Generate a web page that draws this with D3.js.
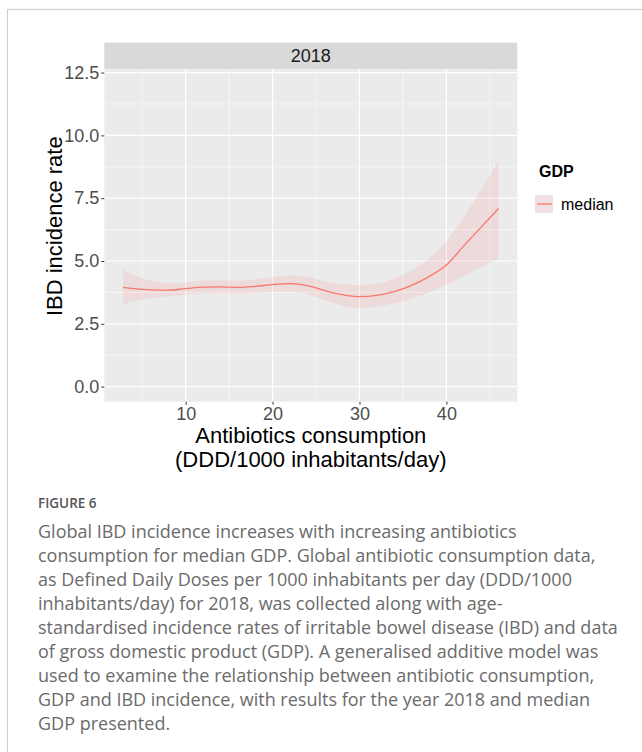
<!DOCTYPE html>
<html>
<head>
<meta charset="utf-8">
<script src="https://cdn.jsdelivr.net/npm/d3@7"></script>
<style>
  body { margin: 0; background: #fff; }
  svg { display: block; }
</style>
</head>
<body>
<div class="canvas"></div>
<script>
// GAM fit, median GDP, 2018
const consumption = [2.8, 4, 6, 8, 10, 12, 14, 16, 18, 20, 22, 24, 26, 28, 30, 32, 34, 36, 38, 40, 42, 44, 46]
const fitted = [3.95, 3.90, 3.85, 3.84, 3.90, 3.96, 3.97, 3.95, 3.99, 4.06, 4.10, 4.02, 3.82, 3.66, 3.58, 3.63, 3.78, 4.03, 4.38, 4.84, 5.60, 6.35, 7.09]
const lower = [3.29, 3.40, 3.52, 3.58, 3.66, 3.70, 3.72, 3.70, 3.73, 3.77, 3.78, 3.67, 3.45, 3.22, 3.12, 3.18, 3.32, 3.50, 3.74, 4.04, 4.40, 4.75, 5.10]
const upper = [4.64, 4.45, 4.22, 4.12, 4.15, 4.22, 4.23, 4.21, 4.27, 4.36, 4.43, 4.37, 4.19, 4.08, 4.04, 4.10, 4.30, 4.62, 5.10, 5.80, 6.75, 7.85, 9.00]

const xTicks = [10, 20, 30, 40]
const xMinor = [5, 15, 25, 35, 45]
const yTicks = [0, 2.5, 5, 7.5, 10, 12.5]
const yMinor = [1.25, 3.75, 6.25, 8.75, 11.25]

const facet = '2018'
const legendTitle = 'GDP'
const legendLabels = ['median']

const captionHead = 'FIGURE 6'
const captionLines = [
  'Global IBD incidence increases with increasing antibiotics',
  'consumption for median GDP. Global antibiotic consumption data,',
  'as Defined Daily Doses per 1000 inhabitants per day (DDD/1000',
  'inhabitants/day) for 2018, was collected along with age-',
  'standardised incidence rates of irritable bowel disease (IBD) and data',
  'of gross domestic product (GDP). A generalised additive model was',
  'used to examine the relationship between antibiotic consumption,',
  'GDP and IBD incidence, with results for the year 2018 and median',
  'GDP presented.'
]

const dims = { width: 642, height: 752 }
const panel = { left: 104.3, right: 517.3, top: 69.3, bottom: 401.7, stripTop: 42.7 }
const red = '#F8766D'
const font = '"Liberation Sans", Arial, Helvetica, sans-serif'

const data = consumption.map((c, i) => ({ x: c, y: fitted[i], lo: lower[i], hi: upper[i] }))

const svg = d3.select('.canvas').append('svg')
  .attr('width', dims.width)
  .attr('height', dims.height)

// page frame
svg.append('rect')
  .attr('x', 7.5).attr('y', 9.5)
  .attr('width', 700).attr('height', 800)
  .attr('fill', '#fff')
  .attr('stroke', '#cfcfcf')
  .attr('stroke-width', 1.2)

// ggplot-style 5% expansion of the data range
const [x0, x1] = d3.extent(consumption)
const pad = (x1 - x0) * 0.05
const x = d3.scaleLinear()
  .domain([x0 - pad, x1 + pad])
  .range([panel.left, panel.right])

const y = d3.scaleLinear()
  .domain([-0.6, 12.63])
  .range([panel.bottom, panel.top])

// strip
svg.append('rect')
  .attr('x', panel.left).attr('y', panel.stripTop)
  .attr('width', panel.right - panel.left)
  .attr('height', panel.top - panel.stripTop)
  .attr('fill', '#D9D9D9')

svg.append('text')
  .attr('x', (panel.left + panel.right) / 2)
  .attr('y', (panel.stripTop + panel.top) / 2)
  .attr('dy', '0.36em')
  .attr('text-anchor', 'middle')
  .attr('font-family', font)
  .attr('font-size', 18)
  .attr('fill', '#1A1A1A')
  .text(facet)

// panel background
svg.append('rect')
  .attr('x', panel.left).attr('y', panel.top)
  .attr('width', panel.right - panel.left)
  .attr('height', panel.bottom - panel.top)
  .attr('fill', '#EBEBEB')

const grid = svg.append('g')

grid.selectAll('.vminor').data(xMinor.filter(d => x(d) < panel.right))
  .enter().append('line')
  .attr('x1', d => x(d)).attr('x2', d => x(d))
  .attr('y1', panel.top).attr('y2', panel.bottom)
  .attr('stroke', '#fff').attr('stroke-width', 0.6)

grid.selectAll('.hminor').data(yMinor)
  .enter().append('line')
  .attr('y1', d => y(d)).attr('y2', d => y(d))
  .attr('x1', panel.left).attr('x2', panel.right)
  .attr('stroke', '#fff').attr('stroke-width', 0.6)

grid.selectAll('.vmajor').data(xTicks)
  .enter().append('line')
  .attr('x1', d => x(d)).attr('x2', d => x(d))
  .attr('y1', panel.top).attr('y2', panel.bottom)
  .attr('stroke', '#fff').attr('stroke-width', 1.2)

grid.selectAll('.hmajor').data(yTicks)
  .enter().append('line')
  .attr('y1', d => y(d)).attr('y2', d => y(d))
  .attr('x1', panel.left).attr('x2', panel.right)
  .attr('stroke', '#fff').attr('stroke-width', 1.2)

// confidence ribbon + fitted line
const ribbon = d3.area()
  .x(d => x(d.x))
  .y0(d => y(d.lo))
  .y1(d => y(d.hi))
  .curve(d3.curveMonotoneX)

const fitLine = d3.line()
  .x(d => x(d.x))
  .y(d => y(d.y))
  .curve(d3.curveMonotoneX)

svg.append('path')
  .datum(data)
  .attr('d', ribbon)
  .attr('fill', red)
  .attr('fill-opacity', 0.13)

svg.append('path')
  .datum(data)
  .attr('d', fitLine)
  .attr('fill', 'none')
  .attr('stroke', red)
  .attr('stroke-width', 1.3)

// axes
const xAxis = d3.axisBottom(x).tickValues(xTicks).tickSize(3).tickPadding(3)
const yAxis = d3.axisLeft(y).tickValues(yTicks).tickSize(3).tickPadding(2)
  .tickFormat(d3.format('.1f'))

const xg = svg.append('g')
  .attr('transform', `translate(0, ${panel.bottom})`)
  .call(xAxis)
const yg = svg.append('g')
  .attr('transform', `translate(${panel.left}, 0)`)
  .call(yAxis)

;[xg, yg].forEach(g => {
  g.select('.domain').remove()
  g.selectAll('line').attr('stroke', '#333')
  g.selectAll('text')
    .attr('font-family', font)
    .attr('font-size', 18)
    .attr('fill', '#4D4D4D')
})

// axis titles
svg.append('text')
  .attr('transform', `translate(62, ${(panel.stripTop + panel.bottom) / 2 + 4}) rotate(-90)`)
  .attr('text-anchor', 'middle')
  .attr('font-family', font)
  .attr('font-size', 22)
  .attr('fill', '#000')
  .text('IBD incidence rate')

const xTitle = svg.append('text')
  .attr('text-anchor', 'middle')
  .attr('font-family', font)
  .attr('font-size', 22)
  .attr('fill', '#000')

xTitle.append('tspan')
  .attr('x', (panel.left + panel.right) / 2).attr('y', 443)
  .text('Antibiotics consumption')
xTitle.append('tspan')
  .attr('x', (panel.left + panel.right) / 2).attr('y', 467)
  .text('(DDD/1000 inhabitants/day)')

// legend
const legendGroup = svg.append('g')
  .attr('transform', 'translate(535, 0)')

legendGroup.append('text')
  .attr('x', 4).attr('y', 177)
  .attr('font-family', font)
  .attr('font-size', 16)
  .attr('font-weight', 'bold')
  .text(legendTitle)

const keys = legendGroup.selectAll('.key')
  .data(legendLabels)
  .enter().append('g')
  .attr('transform', (d, i) => `translate(0, ${195 + i * 18})`)

keys.append('rect')
  .attr('width', 18).attr('height', 18)
  .attr('fill', '#F2F2F2')
keys.append('rect')
  .attr('width', 18).attr('height', 18)
  .attr('fill', red)
  .attr('fill-opacity', 0.13)
keys.append('line')
  .attr('x1', 2).attr('x2', 17)
  .attr('y1', 9).attr('y2', 9)
  .attr('stroke', red)
  .attr('stroke-width', 1.3)
keys.append('text')
  .attr('x', 26).attr('y', 9)
  .attr('dy', '0.36em')
  .attr('font-family', font)
  .attr('font-size', 16)
  .text(d => d)

// caption
const capFont = '"Open Sans", Lato, sans-serif'
svg.append('text')
  .attr('x', 38).attr('y', 508)
  .attr('font-family', capFont)
  .attr('font-size', 13.5)
  .attr('font-weight', 600)
  .attr('fill', '#555')
  .text(captionHead)

svg.append('g').selectAll('text')
  .data(captionLines)
  .enter().append('text')
  .attr('x', 38)
  .attr('y', (d, i) => 537.5 + i * 24)
  .attr('font-family', capFont)
  .attr('font-size', 18)
  .attr('fill', '#6b6b6b')
  .text(d => d)
</script>
</body>
</html>
